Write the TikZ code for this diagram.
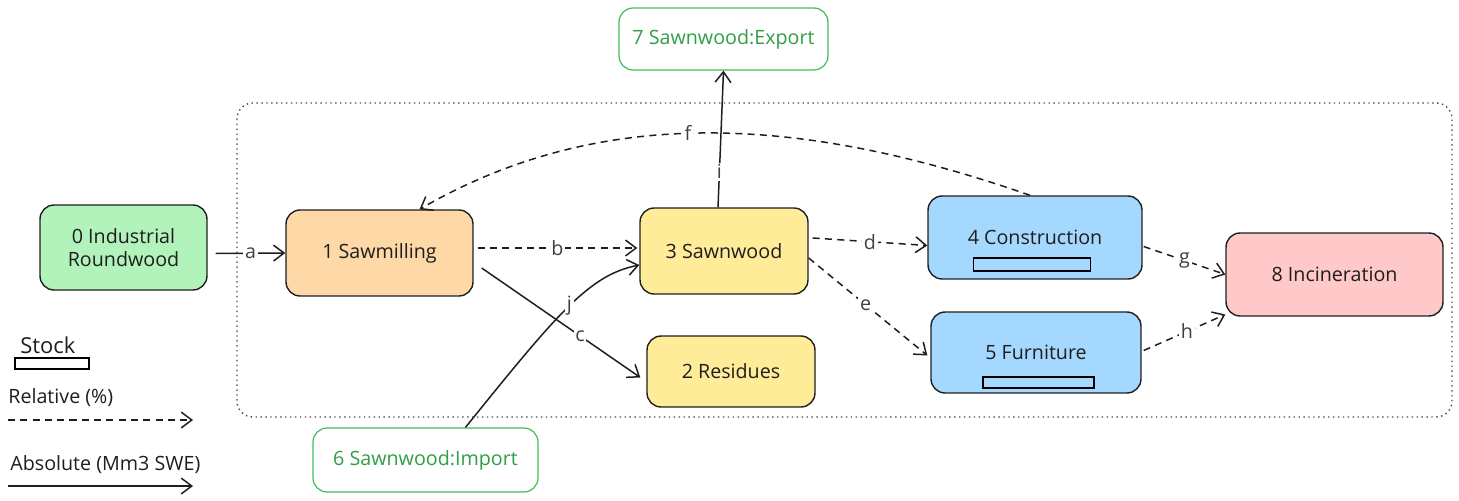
\documentclass[tikz,border=0pt]{standalone}
\usepackage{fontspec}
\setmainfont{Open Sans}
\usepackage{xcolor}
\definecolor{inkDark}{HTML}{1E1E1E}
\definecolor{fillGreen}{HTML}{B2F2BB}
\definecolor{fillOrange}{HTML}{FFD8A8}
\definecolor{fillYellow}{HTML}{FFEC99}
\definecolor{fillBlue}{HTML}{A5D8FF}
\definecolor{fillPink}{HTML}{FFC9C9}
\definecolor{tradeGreen}{HTML}{2F9E44}
\definecolor{tradeBorder}{HTML}{40C057}
\usepackage{tikz}
\usetikzlibrary{arrows.meta, calc}

\begin{document}
\begin{tikzpicture}[
        x=0.02cm, y=-0.02cm,
        font=\fontsize{11.2}{13.5}\selectfont,
        flowBox/.style={
            draw=inkDark,
            line width=0.8pt,
            rounded corners=8pt,
            text=inkDark,
            align=center
        },
        tradeBox/.style={
            draw=tradeBorder,
            line width=0.7pt,
            rounded corners=8pt,
            text=tradeGreen,
            align=center
        },
        stockBar/.style={
            draw=black,
            line width=0.9pt,
            inner sep=0pt
        },
        relArrow/.style={
            -{Straight Barb[length=6pt,width=9pt]},
            inkDark,
            line width=0.85pt,
            dash pattern=on 4pt off 3pt
        },
        absArrow/.style={
            -{Straight Barb[length=6pt,width=9pt]},
            inkDark,
            line width=0.85pt
        },
        edgeLabel/.style={
            fill=white,
            inner sep=1pt,
            text=inkDark!85
        },
        legendText/.style={
            anchor=west,
            inner sep=0pt,
            text=inkDark
        }
    ]
    \useasboundingbox (0,0) rectangle (1459,500);

    % System boundary
    \draw[inkDark!80, line width=0.8pt, dotted, rounded corners=9pt] (237,103) rectangle (1452,417);

    % Process and market nodes
    \node[flowBox, fill=fillGreen, minimum width=3.34cm, minimum height=1.7cm] (roundwood) at (123.5,247.5) {0 Industrial\\Roundwood};
    \node[flowBox, fill=fillOrange, minimum width=3.74cm, minimum height=1.72cm] (sawmill) at (379.5,253) {1 Sawmilling};
    \node[flowBox, fill=fillYellow, minimum width=3.36cm, minimum height=1.72cm] (sawnwood) at (724,251) {3 Sawnwood};
    \node[flowBox, fill=fillYellow, minimum width=3.36cm, minimum height=1.42cm] (residues) at (731,371.5) {2 Residues};
    \node[flowBox, fill=fillBlue, minimum width=4.28cm, minimum height=1.66cm] (construction) at (1035,237.5) {4 Construction};
    \node[flowBox, fill=fillBlue, minimum width=4.2cm, minimum height=1.62cm] (furniture) at (1036,352.5) {5 Furniture};
    \node[flowBox, fill=fillPink, minimum width=4.34cm, minimum height=1.66cm] (incineration) at (1334.5,274.5) {8 Incineration};

    % Stocks
    \node[stockBar, minimum width=2.34cm, minimum height=0.26cm] (constructionStock) at (1032,264.5) {};
    \node[stockBar, minimum width=2.22cm, minimum height=0.22cm] (furnitureStock) at (1038.5,382.5) {};

    % Trade nodes
    \node[tradeBox, minimum width=4.18cm, minimum height=1.24cm] (export) at (723.5,39) {7 Sawnwood:Export};
    \node[tradeBox, minimum width=4.5cm, minimum height=1.28cm] (import) at (425.5,460) {6 Sawnwood:Import};

    % Flows
    \draw[absArrow] ($(roundwood.east)+(8,6)$) -- (sawmill.west)
        node[edgeLabel, midway] {a};
    \draw[relArrow] ($(sawmill.east)+(4,-5)$) -- ($(sawnwood.west)+(-2,-3)$)
        node[edgeLabel, midway] {b};
    \draw[absArrow] ($(sawmill.east)+(8,15)$) -- ($(residues.west)+(-6,6)$)
        node[edgeLabel, pos=0.62] {c};
    \draw[relArrow] ($(sawnwood.east)+(4,-13)$) -- ($(construction.west)+(0,8)$)
        node[edgeLabel, midway] {d};
    \draw[relArrow] ($(sawnwood.east)+(0,7)$) -- ($(furniture.west)+(-3,3)$)
        node[edgeLabel, pos=0.48] {e};
    \draw[relArrow] ($(construction.north)+(-5,0)$) .. controls (800,115) and (600,105) .. ($(sawmill.north)+(40,0)$)
        node[edgeLabel, pos=0.53] {f};
    \draw[relArrow] ($(construction.east)+(1,9)$) -- (incineration.west)
        node[edgeLabel, midway] {g};
    \draw[relArrow] ($(furniture.east)+(2,-2)$) -- ($(incineration.west)+(0,40)$)
        node[edgeLabel, pos=0.53] {h};
    \draw[absArrow] ($(sawnwood.north)+(-6,0)$) -- (export.south)
        node[edgeLabel, pos=0.26] {i};
    \draw[absArrow] ($(import.north)+(40,0)$) .. controls (560,310) and (590,275) .. ($(sawnwood.west)+(0,14)$)
        node[edgeLabel, pos=0.5] {j};

    % Legend
    \node[legendText, font=\fontsize{12.5}{15}\selectfont] (stockText) at (20,345) {Stock};
    \node[stockBar, minimum width=1.48cm, minimum height=0.22cm] (stockKey) at (52,363.5) {};
    \node[legendText] (relText) at (8,398) {Relative (\%)};
    \coordinate (relStart) at (8,420);
    \coordinate (relEnd) at (193,420);
    \draw[relArrow] (relStart) -- (relEnd);
    \node[legendText] (absText) at (10,465) {Absolute (Mm3 SWE)};
    \coordinate (absStart) at (8,486);
    \coordinate (absEnd) at (193,486);
    \draw[absArrow] (absStart) -- (absEnd);
\end{tikzpicture}
\end{document}
